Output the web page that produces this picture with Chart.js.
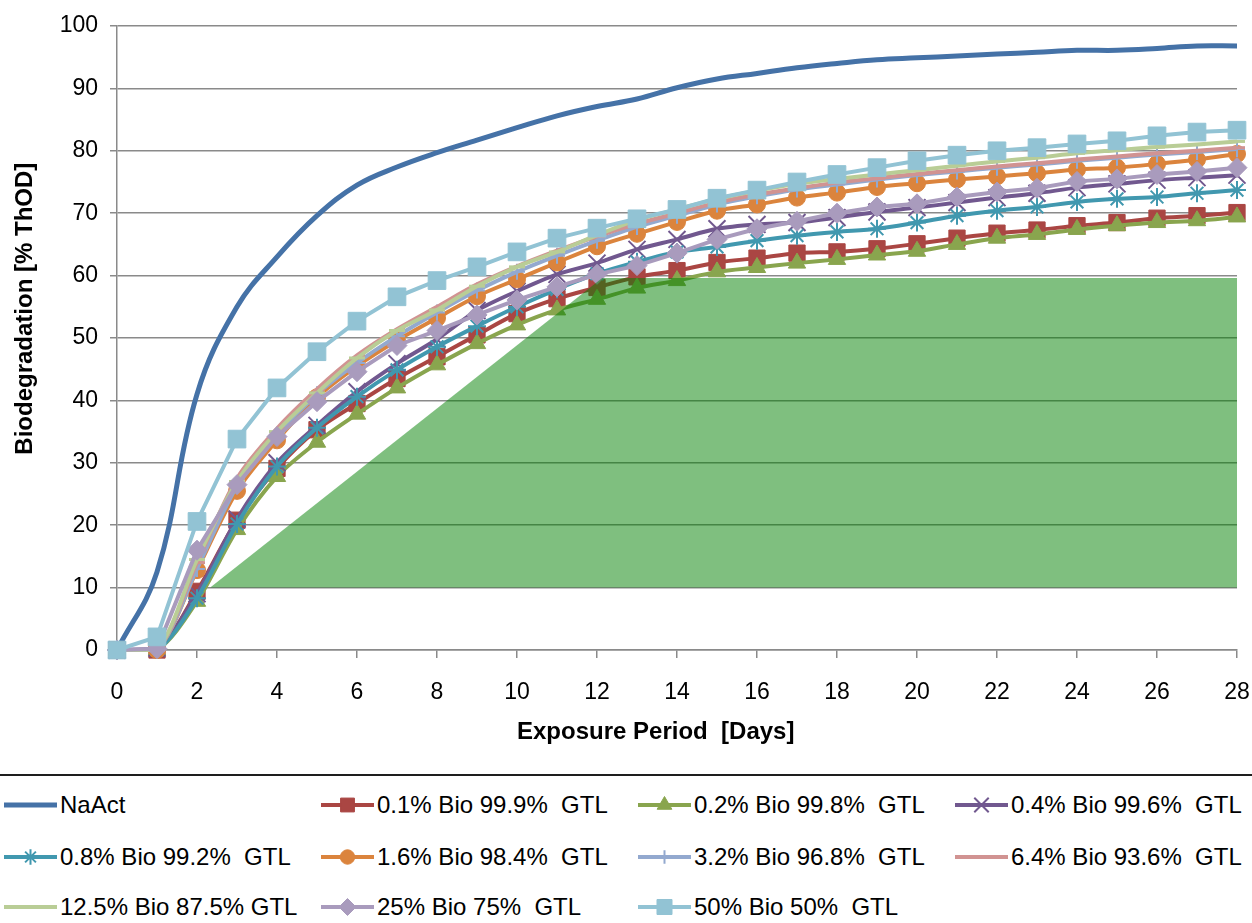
<!DOCTYPE html>
<html>
<head>
<meta charset="utf-8">
<title>Biodegradation</title>
<script src="https://cdn.jsdelivr.net/npm/chart.js@4.4.1/dist/chart.umd.min.js"></script>
<style>
  html, body { margin: 0; padding: 0; background: #fff; }
  #wrap { position: relative; width: 1252px; height: 923px; overflow: hidden;
          font-family: "Liberation Sans", Arial, sans-serif; }
  #plot { position: absolute; left: 0; top: 0; width: 1252px; height: 772px; }
  #legend { position: absolute; left: 0; top: 774px; width: 1252px; height: 149px;
            border-top: 2px solid #1e1e1e; }
  .item { position: absolute; display: flex; align-items: center; height: 40px; }
  .item canvas { display: block; }
  .item span { font-size: 24px; color: #000; white-space: pre; margin-left: 2px; line-height: 40px; }
</style>
</head>
<body>
<div id="wrap">
  <canvas id="plot" width="1252" height="772"></canvas>
  <div id="legend"></div>
</div>
<script>
// Exposure days (x values)
const days = [0, 1, 2, 3, 4, 5, 6, 7, 8, 9, 10, 11, 12, 13, 14, 15, 16, 17, 18, 19, 20, 21, 22, 23, 24, 25, 26, 27, 28];

// Biodegradation in % ThOD per series
const naAct   = [0, 12.5, 41, 55, 63, 69.6, 74.5, 77.4, 79.7, 81.7, 83.7, 85.6, 87.1, 88.3, 90.1, 91.5, 92.4, 93.3, 94, 94.6, 94.9, 95.2, 95.5, 95.8, 96.1, 96.1, 96.4, 96.8, 96.8];
const bio01   = [0, 0, 9.4, 20.8, 29.1, 35.3, 39.5, 43.5, 47, 50.5, 53.9, 56.3, 58.1, 59.8, 60.8, 62.1, 62.8, 63.6, 63.8, 64.3, 65.1, 66, 66.8, 67.3, 68, 68.5, 69.2, 69.6, 70.1];
const bio02   = [0, 0, 7.8, 19.3, 27.8, 33.3, 37.8, 42, 45.7, 49.1, 52.1, 54.5, 56.2, 58, 59.2, 60.6, 61.3, 62, 62.6, 63.3, 63.9, 65, 66, 66.6, 67.4, 68, 68.5, 68.8, 69.4];
const bio04   = [0, 0.3, 9, 21, 30, 36, 41.4, 45.9, 49.8, 54.4, 57.5, 60.2, 62, 64.2, 65.8, 67.5, 68.2, 68.5, 69.3, 70.2, 70.9, 71.7, 72.5, 73.2, 74.1, 74.7, 75.3, 75.7, 76.1];
const bio08   = [0, 0, 8.3, 20.2, 29.4, 35.6, 40.6, 44.9, 48.6, 51.9, 55, 57.8, 60.3, 62.2, 63.8, 64.6, 65.6, 66.4, 67, 67.5, 68.5, 69.6, 70.4, 71, 71.8, 72.3, 72.6, 73.2, 73.7];
const bio16   = [0, 0, 12.8, 25.5, 33.6, 40.5, 45.5, 49.6, 53.2, 56.7, 59.4, 62.1, 64.7, 66.7, 68.6, 70.4, 71.4, 72.5, 73.3, 74.2, 74.8, 75.4, 75.9, 76.4, 77, 77.3, 77.9, 78.6, 79.5];
const bio32   = [0, 0, 13, 26.3, 34.5, 41, 46, 50.3, 54.1, 57.6, 60.6, 63.2, 65.6, 67.8, 69.6, 71.4, 72.7, 73.8, 74.6, 75.4, 76.1, 76.7, 77.3, 77.8, 78.4, 78.9, 79.4, 79.8, 80.3];
const bio64   = [0, 0, 14, 27.5, 35.5, 41.8, 47.2, 51.4, 55, 58.6, 61.5, 64, 66.3, 68.3, 70, 71.7, 73, 74, 74.9, 75.6, 76.3, 76.9, 77.5, 78, 78.6, 79.1, 79.6, 80, 80.5];
const bio125  = [0, 0, 14.5, 27, 35, 41.2, 46.8, 51.2, 54.5, 58.3, 61.4, 63.8, 66.5, 68.9, 70.6, 72.3, 73.6, 74.7, 75.5, 76.2, 76.9, 77.6, 78.3, 78.9, 79.6, 80.1, 80.6, 81, 81.5];
const bio25   = [0, 0.2, 16, 26.5, 34.2, 39.8, 44.6, 48.8, 51.2, 53.7, 56.1, 58.2, 60.2, 61.6, 63.6, 65.8, 67.5, 68.7, 70, 71, 71.5, 72.6, 73.4, 74, 75.1, 75.5, 76.2, 76.7, 77.3];
const bio50   = [0, 2.1, 20.6, 33.8, 42, 47.8, 52.7, 56.6, 59.2, 61.4, 63.8, 66, 67.6, 69.1, 70.6, 72.4, 73.7, 75, 76.2, 77.3, 78.4, 79.3, 80, 80.5, 81.1, 81.6, 82.4, 83, 83.3];

// Shaded pass window: rises from 10 % to the plateau, then stays level
const windowDays   = [2.33, 12.13, 28.12];
const windowLevels = [10, 59.6, 59.6];
const windowBase   = 10;

// Series names as shown in the legend
const seriesNames = [
  'NaAct',
  '0.1% Bio 99.9%  GTL', '0.2% Bio 99.8%  GTL', '0.4% Bio 99.6%  GTL',
  '0.8% Bio 99.2%  GTL', '1.6% Bio 98.4%  GTL', '3.2% Bio 96.8%  GTL',
  '6.4% Bio 93.6%  GTL', '12.5% Bio 87.5% GTL', '25% Bio 75%  GTL', '50% Bio 50%  GTL'
];
const seriesValues = [naAct, bio01, bio02, bio04, bio08, bio16, bio32, bio64, bio125, bio25, bio50];

const xTitle = 'Exposure Period  [Days]';
const yTitle = 'Biodegradation [% ThOD]';

// Line/marker appearance per series
const styles = [
  { color: '#4572A7', point: false,      radius: 0,    width: 5,   tension: 0.4 },
  { color: '#AA4643', point: 'rect',     radius: 11.5, pbw: 1, width: 4, tension: 0.3 },
  { color: '#89A54E', point: 'triangle', radius: 10,   pbw: 1, width: 4, tension: 0.3 },
  { color: '#71588F', point: 'crossRot', radius: 12,   pbw: 2, width: 4, tension: 0.3 },
  { color: '#4198AF', point: 'star',     radius: 9,    pbw: 2, width: 4, tension: 0.3 },
  { color: '#DB843D', point: 'circle',   radius: 8.5,  pbw: 1, width: 4, tension: 0.3 },
  { color: '#93A9CF', point: 'cross',    radius: 8,    pbw: 2, width: 4, tension: 0.3 },
  { color: '#D19392', point: 'dash',     radius: 8,    pbw: 3, width: 4, tension: 0.3 },
  { color: '#B9CD96', point: 'line',     radius: 8,    pbw: 3, width: 4, tension: 0.3 },
  { color: '#A99BBD', point: 'rectRot',  radius: 10,   pbw: 1, width: 4, tension: 0 },
  { color: '#92C3D4', point: 'rect',     radius: 12.5, pbw: 1, width: 4, tension: 0 }
];

const FONT = '"Liberation Sans", Arial, sans-serif';
const GRID = '#8a8a8a';

const datasets = [];
// Shaded window drawn above the series (lowest order is painted last)
datasets.push({
  isWindow: true,
  data: windowDays.map((d, i) => ({ x: d, y: windowLevels[i] })),
  fill: { value: windowBase },
  backgroundColor: 'rgba(0,128,0,0.5)',
  borderWidth: 0,
  borderColor: 'rgba(0,0,0,0)',
  pointRadius: 0,
  tension: 0,
  order: 0,
  clip: 6
});
seriesValues.forEach((vals, i) => {
  const s = styles[i];
  datasets.push({
    label: seriesNames[i],
    data: days.map((d, k) => ({ x: d, y: vals[k] })),
    borderColor: s.color,
    backgroundColor: s.color,
    borderWidth: s.width,
    pointStyle: s.point,
    pointRadius: s.radius,
    pointBackgroundColor: s.color,
    pointBorderColor: s.color,
    pointBorderWidth: s.pbw || 0,
    tension: s.tension,
    fill: false,
    order: 20 - i,
    clip: 15
  });
});

// Axis titles positioned against the plot area
const axisTitles = {
  id: 'axisTitles',
  afterDraw(chart) {
    const { ctx, chartArea } = chart;
    ctx.save();
    ctx.font = 'bold 24px ' + FONT;
    ctx.fillStyle = '#000';
    ctx.textAlign = 'center';
    ctx.textBaseline = 'middle';
    ctx.fillText(xTitle, chartArea.left + chartArea.width * 0.481, chartArea.bottom + 82);
    ctx.translate(chartArea.left - 92, chartArea.top + chartArea.height * 0.453);
    ctx.rotate(-Math.PI / 2);
    ctx.fillText(yTitle, 0, 0);
    ctx.restore();
  }
};

// Legend laid out in four fixed columns below the chart
const htmlLegend = {
  id: 'htmlLegend',
  afterUpdate(chart) {
    const box = document.getElementById('legend');
    box.innerHTML = '';
    const items = chart.data.datasets.filter(ds => !ds.isWindow);
    const colX = [2, 319, 636, 953];
    const rowY = [9, 61, 111];
    items.forEach((ds, i) => {
      const el = document.createElement('div');
      el.className = 'item';
      el.style.left = colX[i % 4] + 'px';
      el.style.top = rowY[Math.floor(i / 4)] + 'px';
      const c = document.createElement('canvas');
      c.width = 56; c.height = 40;
      const g = c.getContext('2d');
      g.strokeStyle = ds.borderColor;
      g.lineWidth = ds.borderWidth;
      g.beginPath(); g.moveTo(2, 20); g.lineTo(55, 20); g.stroke();
      if (ds.pointStyle && ds.pointRadius > 0 && Chart.helpers && Chart.helpers.drawPoint) {
        g.fillStyle = ds.pointBackgroundColor;
        g.strokeStyle = ds.pointBorderColor;
        g.lineWidth = ds.pointBorderWidth;
        Chart.helpers.drawPoint(g, {
          pointStyle: ds.pointStyle,
          radius: ds.pointRadius * 0.85,
          borderWidth: ds.pointBorderWidth,
          rotation: 0
        }, 28.5, 20);
      }
      const t = document.createElement('span');
      t.textContent = ds.label;
      el.appendChild(c);
      el.appendChild(t);
      box.appendChild(el);
    });
  }
};

new Chart(document.getElementById('plot'), {
  type: 'line',
  data: { datasets },
  plugins: [axisTitles, htmlLegend],
  options: {
    responsive: false,
    animation: false,
    layout: { padding: { left: 0, right: 15, top: 26, bottom: 0 } },
    plugins: { legend: { display: false }, tooltip: { enabled: false } },
    scales: {
      x: {
        type: 'linear', min: 0, max: 28,
        ticks: { stepSize: 2, color: '#000', font: { size: 23, family: FONT }, padding: 21, maxRotation: 0, autoSkip: false },
        grid: { drawOnChartArea: false, drawTicks: true, tickLength: 8, color: GRID, lineWidth: 1.5 },
        border: { display: true, color: GRID, width: 1.5 },
        afterFit(scale) { scale.height = 122; scale.paddingLeft = 0; scale.paddingRight = 0; }
      },
      y: {
        min: 0, max: 100,
        ticks: { stepSize: 10, color: '#000', font: { size: 23, family: FONT }, padding: 12 },
        grid: { color: GRID, lineWidth: 1.5, tickLength: 7 },
        border: { display: true, color: GRID, width: 1.5 },
        afterFit(scale) { scale.width = 117; scale.paddingTop = 0; scale.paddingBottom = 0; }
      }
    }
  }
});
</script>
</body>
</html>
